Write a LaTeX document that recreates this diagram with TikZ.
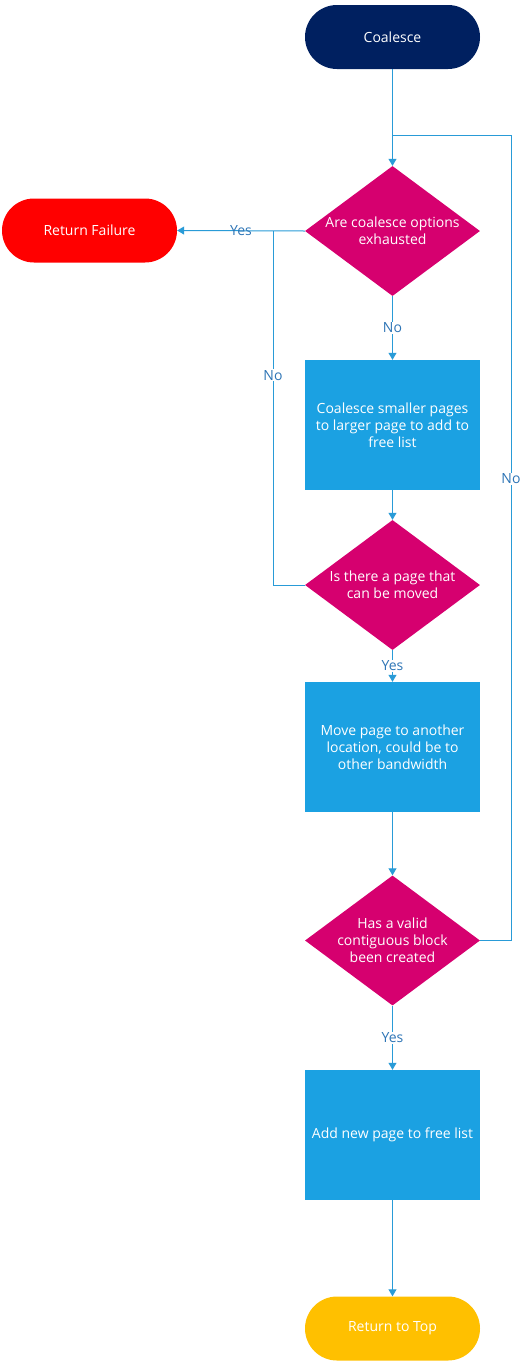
\documentclass[tikz,border=0pt]{standalone}
\usepackage{fontspec}
\setmainfont{Open Sans}
\usetikzlibrary{shapes.geometric,arrows.meta}
\definecolor{navy}{RGB}{0,32,96}
\definecolor{mag}{RGB}{214,0,111}
\definecolor{boxblue}{RGB}{27,161,226}
\definecolor{failred}{RGB}{255,0,0}
\definecolor{amber}{RGB}{255,192,0}
\definecolor{linec}{RGB}{41,155,215}
\definecolor{labc}{RGB}{46,117,182}
\begin{document}
\begin{tikzpicture}[x=1pt,y=-1pt, font=\fontsize{14}{17}\selectfont,
  term/.style={rectangle, rounded corners=32pt, minimum width=175pt, minimum height=64pt, text=white, inner sep=0pt},
  dec/.style={diamond, fill=mag, minimum width=175pt, minimum height=130pt, inner sep=0pt},
  dtext/.style={text=white, align=center, inner sep=0pt},
  proc/.style={rectangle, fill=boxblue, minimum width=175pt, minimum height=130pt, text=white, align=center, inner sep=0pt},
  conn/.style={draw=linec, line width=1pt, -{Triangle[width=8pt,length=7pt]}},
  plain/.style={draw=linec, line width=1pt},
  lab/.style={text=labc, fill=white, inner sep=1pt},
  labnf/.style={text=labc, inner sep=1pt}]
\useasboundingbox (0,0) rectangle (529,1366);
\node[term, fill=navy] (start) at (392.5,37) {Coalesce};
\node[dec] (d1) at (392.5,231) {};
\node[dtext] (d1t) at (d1.center) {Are coalesce options\\exhausted};
\node[term, fill=failred] (fail) at (89.5,230.5) {Return Failure};
\node[proc] (p1) at (392.5,425) {Coalesce smaller pages\\to larger page to add to\\free list};
\node[dec] (d2) at (392.5,585) {};
\node[dtext] (d2t) at (d2.center) {Is there a page that\\can be moved};
\node[proc] (p2) at (392.5,747) {Move page to another\\location, could be to\\other bandwidth};
\node[dec] (d3) at (392.5,940.5) {};
\node[dtext] (d3t) at (d3.center) {Has a valid\\contiguous block\\been created};
\node[proc] (p3) at (392.5,1135) {Add new page to free list};
\node[term, fill=amber] (top) at (392.5,1328.5) {Return to Top};
\coordinate (j1) at (392.5,135);
\coordinate (nl) at (273,585);
\coordinate (nt) at (273,231);
\coordinate (r1) at (511,940.5);
\coordinate (r2) at (511,135);
\draw[plain] (start.south) -- (j1);
\draw[conn] (j1) -- (d1.north);
\draw[conn] (d1.west) -- node[labnf]{Yes} (fail.east);
\draw[conn] (d1.south) -- node[lab]{No} (p1.north);
\draw[conn] (p1.south) -- (d2.north);
\draw[plain] (d2.west) -- (nl) -- node[lab,pos=0.593]{No} (nt);
\draw[conn] (d2.south) -- node[lab]{Yes} (p2.north);
\draw[conn] (p2.south) -- (d3.north);
\draw[conn] (d3.south) -- node[lab]{Yes} (p3.north);
\draw[conn] (p3.south) -- (top.north);
\draw[plain] (d3.east) -- (r1) -- node[lab,pos=0.573]{No} (r2) -- (j1);
\end{tikzpicture}
\end{document}
